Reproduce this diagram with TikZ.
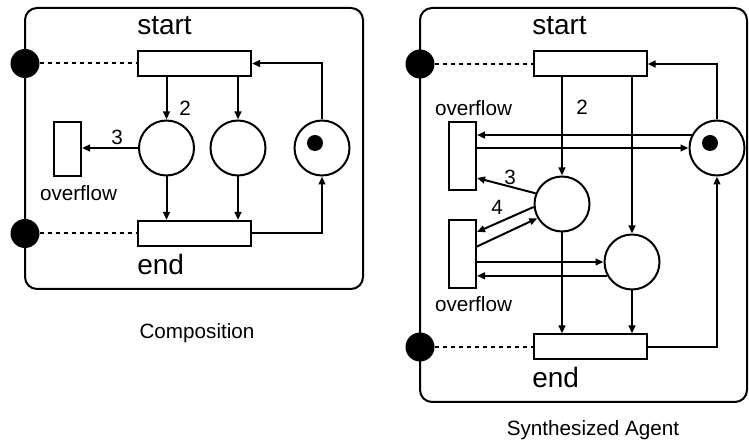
\documentclass[tikz,border=0pt]{standalone}
\usepackage{fontspec}
\setmainfont{Liberation Sans}
\usetikzlibrary{arrows.meta,calc}
\begin{document}
\tikzset{
 ln/.style={line width=1.5pt},
 arr/.style={line width=1.5pt,-{Triangle[length=6pt,width=5pt]}},
 trans/.style={draw,line width=1.5pt,inner sep=0pt,fill=white,minimum width=84.75pt,minimum height=18.75pt},
 place/.style={draw,circle,line width=1.5pt,minimum size=41.25pt,inner sep=0pt},
 port/.style={circle,fill=black,minimum size=21.75pt,inner sep=0pt},
 tok/.style={circle,fill=black,minimum size=12pt,inner sep=0pt},
 big/.style={font=\fontsize{21pt}{24pt}\selectfont,inner sep=0pt},
 small/.style={font=\fontsize{15.5pt}{18pt}\selectfont,inner sep=0pt},
 dotl/.style={line width=1.5pt,dash pattern=on 3pt off 3pt},
 frame/.style={line width=1.5pt,rounded corners=9pt},
}
\begin{tikzpicture}[x=0.75pt,y=-0.75pt]
\useasboundingbox (0,0) rectangle (749,448);
% ---------------- left: Composition ----------------
\draw[frame] (25,8) rectangle (363,289);
\node[trans] (ls) at (194.5,63.5) {};
\node[trans] (le) at (194.5,233.5) {};
\node[place] (lp1) at (166.5,148) {};
\node[place] (lp2) at (238,148) {};
\node[place] (lp3) at (322,148) {};
\node[tok] (ltok) at (315,143) {};
\node[trans,minimum width=20.25pt,minimum height=40.5pt] (lo) at (67.5,149) {};
\node[port] (lq1) at (25,63.5) {};
\node[port] (lq2) at (25,233.5) {};
\draw[dotl] (lq1) -- (ls);
\draw[dotl] (lq2) -- (le);
\draw[arr] (ls.south -| lp1) -- (lp1);
\draw[arr] (ls.south -| lp2) -- (lp2);
\draw[arr] (lp1.west) -- (lo.east |- lp1.west);
\draw[arr] (lp1) -- (lp1 |- le.north);
\draw[arr] (lp2) -- (lp2 |- le.north);
\draw[arr] (lp3.north) |- (ls.east);
\draw[arr] (le.east) -| (lp3.south);
\node[big,anchor=west] (lstart) at (137,26) {start};
\node[big,anchor=west] (lend) at (137,264.5) {end};
\node[small] (l2) at (185,108) {2};
\node[small] (l3) at (117,137) {3};
\node[small] (lover) at (78.5,193) {overflow};
\node[small] (lcap) at (197,333) {Composition};
% ---------------- right: Synthesized Agent ----------------
\draw[frame] (420,8) rectangle (747,402);
\node[trans] (rs) at (590,64) {};
\node[trans] (re) at (590,347) {};
\node[place] (rt) at (717,148) {};
\node[tok] (rtok) at (710,143) {};
\node[place] (ra) at (562,204) {};
\node[place] (rb) at (632,262) {};
\node[trans,minimum width=20.25pt,minimum height=51pt] (ro1) at (462.5,156) {};
\node[trans,minimum width=20.25pt,minimum height=51pt] (ro2) at (462.5,254.5) {};
\node[port] (rq1) at (420,64) {};
\node[port] (rq2) at (420,347) {};
\draw[dotl] (rq1) -- (rs);
\draw[dotl] (rq2) -- (re);
\draw[arr] (rt.153) -- (ro1.east |- rt.153);
\draw[arr] (ro1.east |- rt.west) -- (rt.west);
\draw[arr] (rs.south -| ra) -- (ra);
\draw[arr] (rs.south -| rb) -- (rb);
\draw[arr] (rt.north) |- (rs.east);
\draw[arr] (re.east) -| (rt.south);
\draw[arr] (ra) -- (ra |- re.north);
\draw[arr] (rb) -- (rb |- re.north);
\draw[arr] (ra.158) -- ($(ro1.south east)+(0,-13)$);
\draw[arr] (ra.186) -- ($(ro2.north east)+(0,12.5)$);
\draw[arr] ($(ro2.north east)+(0,27)$) -- (ra.210);
\draw[arr] (ro2.east |- rb.west) -- (rb.west);
\draw[arr] (rb.209) -- (ro2.east |- rb.209);
\node[big,anchor=west] (rstart) at (532,26) {start};
\node[big,anchor=west] (rend) at (532,377) {end};
\node[small] (r2) at (582,107) {2};
\node[small] (r3) at (510,177) {3};
\node[small] (r4) at (497,207) {4};
\node[small] (rover1) at (473.5,108) {overflow};
\node[small] (rover2) at (473.5,304) {overflow};
\node[small] (rcap) at (593,430) {Synthesized Agent};
\end{tikzpicture}
\end{document}
